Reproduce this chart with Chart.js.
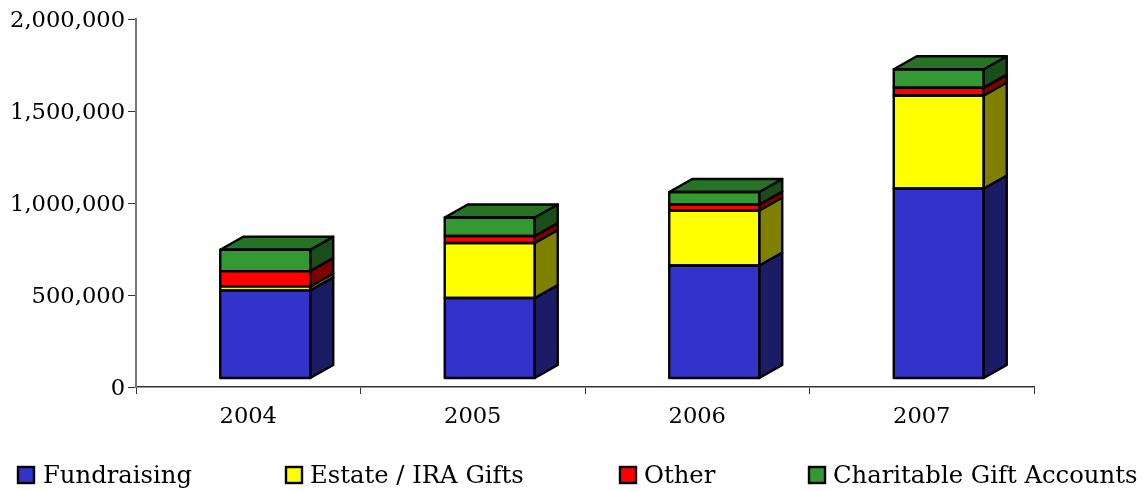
<!DOCTYPE html>
<html>
<head>
<meta charset="utf-8">
<style>
  html, body { margin: 0; padding: 0; background: #fff; }
  canvas { display: block; }
</style>
<script src="https://cdn.jsdelivr.net/npm/chart.js@4"></script>
</head>
<body>
<canvas id="giftsChart" width="1143" height="491"></canvas>
<script>
const years = ['2004', '2005', '2006', '2007'];
const yTicks = [0, 500000, 1000000, 1500000, 2000000];

// segment heights
const fundraising = [476000, 435000, 611000, 1030000];
const estateIra = [22000, 299000, 299000, 505000];
const other = [83000, 38000, 33000, 43000];
const charitable = [116000, 100000, 68000, 100000];

const seriesNames = ['Fundraising', 'Estate / IRA Gifts', 'Other', 'Charitable Gift Accounts'];
const seriesValues = [fundraising, estateIra, other, charitable];
const frontColors = ['#3333CC', '#FFFF00', '#FF0000', '#339933'];
const sideColors = ['#1C1C66', '#808000', '#800000', '#1A4D1A'];
const topColor = '#267326';

const FONT = '"DejaVu Serif", serif';
const depthX = 23;
const depthY = 13;
const legendX = [18, 286, 620, 809];

function poly(ctx, pts, fill) {
  ctx.beginPath();
  pts.forEach((p, i) => i ? ctx.lineTo(p[0], p[1]) : ctx.moveTo(p[0], p[1]));
  ctx.closePath();
  ctx.fillStyle = fill;
  ctx.fill();
  ctx.stroke();
}

// draws the side and top faces plus the outlines, the front is the plain bar element
const box3d = {
  id: 'box3d',
  afterDatasetsDraw(chart) {
    const ctx = chart.ctx;
    ctx.save();
    ctx.strokeStyle = '#000';
    ctx.lineWidth = 2.4;
    ctx.lineJoin = 'round';
    seriesValues.forEach((vals, s) => {
      chart.getDatasetMeta(s).data.forEach(bar => {
        const left = bar.x - bar.width / 2;
        const right = bar.x + bar.width / 2;
        poly(ctx, [[right, bar.y], [right + depthX, bar.y - depthY], [right + depthX, bar.base - depthY], [right, bar.base]], sideColors[s]);
        if (s === seriesValues.length - 1) {
          poly(ctx, [[left, bar.y], [left + depthX, bar.y - depthY], [right + depthX, bar.y - depthY], [right, bar.y]], topColor);
        }
        ctx.strokeRect(left, bar.y, bar.width, bar.base - bar.y);
      });
    });
    ctx.restore();
  }
};

// legend with the tight box/text gap of the original
const bottomLegend = {
  id: 'bottomLegend',
  afterDraw(chart) {
    const ctx = chart.ctx;
    ctx.save();
    ctx.font = '24.3px ' + FONT;
    ctx.textBaseline = 'middle';
    seriesNames.forEach((name, s) => {
      const x = legendX[s];
      ctx.fillStyle = frontColors[s];
      ctx.strokeStyle = '#000';
      ctx.lineWidth = 2.4;
      ctx.fillRect(x, 467, 16, 16);
      ctx.strokeRect(x, 467, 16, 16);
      ctx.fillStyle = '#000';
      ctx.fillText(name, s === 0 ? x + 25 : x + 24, 477);
    });
    ctx.restore();
  }
};

new Chart(document.getElementById('giftsChart'), {
  type: 'bar',
  data: {
    labels: years,
    datasets: seriesNames.map((name, s) => ({
      label: name,
      data: seriesValues[s].map((v, i) => ({ x: i, y: v })),
      backgroundColor: frontColors[s],
      borderWidth: 0,
      barThickness: 90,
      xAxisID: 'xBar',
      yAxisID: 'yBar',
    })),
  },
  plugins: [box3d, bottomLegend],
  options: {
    responsive: false,
    animation: false,
    layout: { padding: { top: 19, right: 109, left: 0, bottom: 0 } },
    plugins: {
      legend: { display: false },
      tooltip: { enabled: false },
    },
    scales: {
      x: {
        type: 'category',
        offset: true,
        afterFit: scale => { scale.height = 104; },
        grid: { offset: true, drawOnChartArea: false, tickLength: 7, color: '#333', lineWidth: 1 },
        border: { color: '#333', width: 1.5 },
        ticks: { color: '#000', padding: 10, maxRotation: 0, font: { family: FONT, size: 22.6 } },
      },
      y: {
        min: 0,
        max: 2000000,
        afterFit: scale => { scale.width = 136; },
        afterBuildTicks: scale => { scale.ticks = yTicks.map(v => ({ value: v })); },
        grid: { drawOnChartArea: false, tickLength: 8, color: '#333', lineWidth: 1 },
        border: { color: '#777', width: 2 },
        ticks: { color: '#000', padding: 3, labelOffset: 2, font: { family: FONT, size: 22.6 }, callback: v => v.toLocaleString('en-US') },
      },
      // the fronts of the boxes stand a little up and to the right of the axes
      xBar: { type: 'linear', axis: 'x', display: false, stacked: true, offset: false, grid: { offset: false }, min: -0.5757, max: 3.4243 },
      yBar: { type: 'linear', axis: 'y', display: false, stacked: true, min: -49000, max: 1951000 },
    },
  },
});
</script>
</body>
</html>
